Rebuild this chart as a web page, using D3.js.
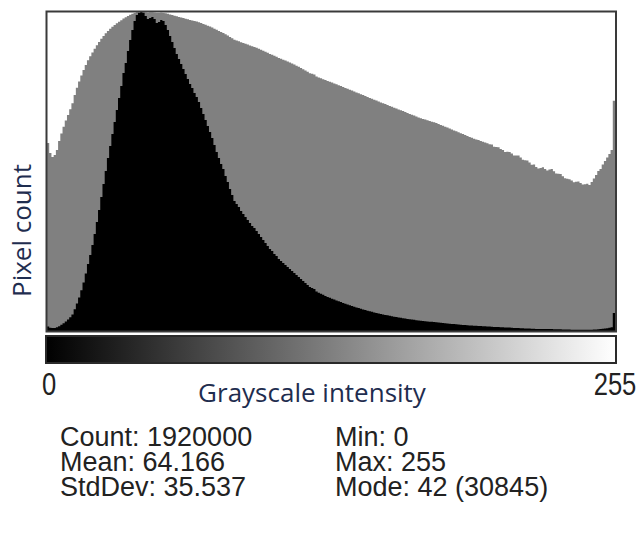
<!DOCTYPE html>
<html>
<head>
<meta charset="utf-8">
<script src="https://cdn.jsdelivr.net/npm/d3@7"></script>
<style>
  html, body { margin: 0; padding: 0; background: #fff; }
  svg { display: block; }
</style>
</head>
<body>
<svg id="chart" width="641" height="537"></svg>
<script>
// Gray levels 0..255
const intensity = d3.range(256);

// Number of pixels at each gray level
const pixelCounts = [
  442, 320, 281, 300, 352, 470, 600, 750, 920, 1100, 1320, 1600, 2100, 2650, 3250, 3950,
  4700, 5550, 6479, 7349, 8316, 9380, 10540, 11700, 12958, 14215, 15472, 16729, 17890, 19050, 20210, 21371,
  22531, 23692, 24949, 25916, 27076, 28140, 29107, 29977, 30557, 30751, 30845, 30751, 30461, 30170, 30267, 30364,
  30170, 29784, 29880, 30074, 29977, 29590, 29107, 28527, 27946, 27366, 26786, 26302, 25819, 25335, 24852, 24368,
  23885, 23498, 23015, 22628, 22144, 21564, 20984, 20404, 19824, 19243, 18663, 17986, 17309, 16729, 16149, 15665,
  14989, 14408, 13731, 13151, 12571, 12281, 11991, 11604, 11314, 11024, 10734, 10444, 10154, 9960, 9670, 9380,
  9090, 8800, 8510, 8220, 7929, 7736, 7446, 7253, 6962, 6769, 6576, 6382, 6189, 5995, 5802, 5609,
  5415, 5222, 5028, 4835, 4642, 4448, 4255, 4158, 4061, 3813, 3704, 3597, 3494, 3394, 3296, 3212,
  3129, 3048, 2961, 2877, 2794, 2713, 2635, 2560, 2487, 2415, 2346, 2278, 2213, 2149, 2087, 2027,
  1962, 1906, 1851, 1798, 1747, 1696, 1647, 1605, 1559, 1514, 1471, 1433, 1387, 1352, 1313, 1280,
  1243, 1207, 1172, 1135, 1106, 1077, 1046, 1013, 987, 965, 947, 926, 905, 884, 865, 845,
  818, 795, 772, 750, 728, 707, 685, 665, 646, 628, 607, 590, 573, 555, 537, 523,
  507, 497, 486, 473, 461, 451, 439, 425, 420, 391, 387, 384, 365, 352, 330, 332,
  331, 314, 296, 296, 295, 276, 258, 253, 251, 235, 219, 220, 203, 193, 197, 201,
  191, 182, 187, 190, 177, 165, 163, 162, 151, 141, 139, 137, 131, 124, 126, 127,
  121, 115, 116, 118, 113, 125, 140, 157, 178, 190, 220, 247, 276, 310, 352, 1740
];

const axisTicks = [0, 255];
const xTitle = "Grayscale intensity";
const yTitle = "Pixel count";
const statsLeft = ["Count: 1920000", "Mean: 64.166", "StdDev: 35.537"];
const statsRight = ["Min: 0", "Max: 255", "Mode: 42 (30845)"];

const svg = d3.select("#chart");
const plot = { left: 47, right: 615, top: 12, bottom: 331 };

const x = d3.scaleLinear().domain([0, intensity.length]).range([plot.left, plot.right]);
const maxCount = d3.max(pixelCounts);
// linear histogram (black) and log-scaled histogram (gray) share the frame
const yLin = d3.scaleLinear().domain([0, maxCount]).range([plot.bottom, plot.top]);
const yLog = d3.scaleLog().domain([1, maxCount]).range([plot.bottom, plot.top]);

const steps = intensity.map(i => ({ i, c: pixelCounts[i] }))
  .concat([{ i: intensity.length, c: pixelCounts[pixelCounts.length - 1] }]);

const stepArea = yScale => d3.area()
  .curve(d3.curveStepAfter)
  .x(d => x(d.i))
  .y0(plot.bottom)
  .y1(d => yScale(Math.max(1, d.c)));

svg.append("path").datum(steps).attr("d", stepArea(yLog)).attr("fill", "#808080");
svg.append("path").datum(steps).attr("d", stepArea(yLin)).attr("fill", "#000");

// plot frame
svg.append("rect")
  .attr("x", plot.left - 0.5).attr("y", plot.top - 0.5)
  .attr("width", plot.right - plot.left + 1.5).attr("height", plot.bottom - plot.top + 1)
  .attr("fill", "none").attr("stroke", "#3a3a3a").attr("stroke-width", 2);

// intensity ramp under the plot
const defs = svg.append("defs");
const grad = defs.append("linearGradient").attr("id", "ramp").attr("x1", "0%").attr("x2", "100%");
grad.append("stop").attr("offset", "0%").attr("stop-color", "#000");
grad.append("stop").attr("offset", "100%").attr("stop-color", "#fff");
svg.append("rect")
  .attr("x", x(0) - 1).attr("y", 336)
  .attr("width", x(256) - x(0) + 2).attr("height", 27)
  .attr("fill", "url(#ramp)").attr("stroke", "#2a2a2a").attr("stroke-width", 2);

const sans = "'Liberation Sans', Arial, sans-serif";

// condensed end labels of the ramp
svg.selectAll("text.tick").data(axisTicks).join("text")
  .attr("class", "tick")
  .attr("transform", d => `translate(${x(d + 1)},395) scale(0.8,1)`)
  .attr("text-anchor", "middle")
  .attr("font-family", sans).attr("font-size", 32).attr("fill", "#222")
  .text(d => d);

svg.append("text")
  .attr("x", 312).attr("y", 402)
  .attr("text-anchor", "middle")
  .attr("font-family", "'Open Sans', sans-serif").attr("font-size", 26)
  .attr("fill", "#1f2d4f")
  .text(xTitle);

svg.append("text")
  .attr("transform", `translate(31,${(plot.top + plot.bottom) / 2 + 59}) rotate(-90)`)
  .attr("text-anchor", "middle")
  .attr("font-family", "'Open Sans', sans-serif").attr("font-size", 26)
  .attr("fill", "#1f2d4f")
  .text(yTitle);

const statRows = (lines, xPos) => svg.append("g").selectAll("text").data(lines).join("text")
  .attr("x", xPos)
  .attr("y", (d, i) => 446 + i * 25)
  .attr("font-family", sans).attr("font-size", 27).attr("fill", "#222")
  .text(d => d);
statRows(statsLeft, 60);
statRows(statsRight, 335);
</script>
</body>
</html>
